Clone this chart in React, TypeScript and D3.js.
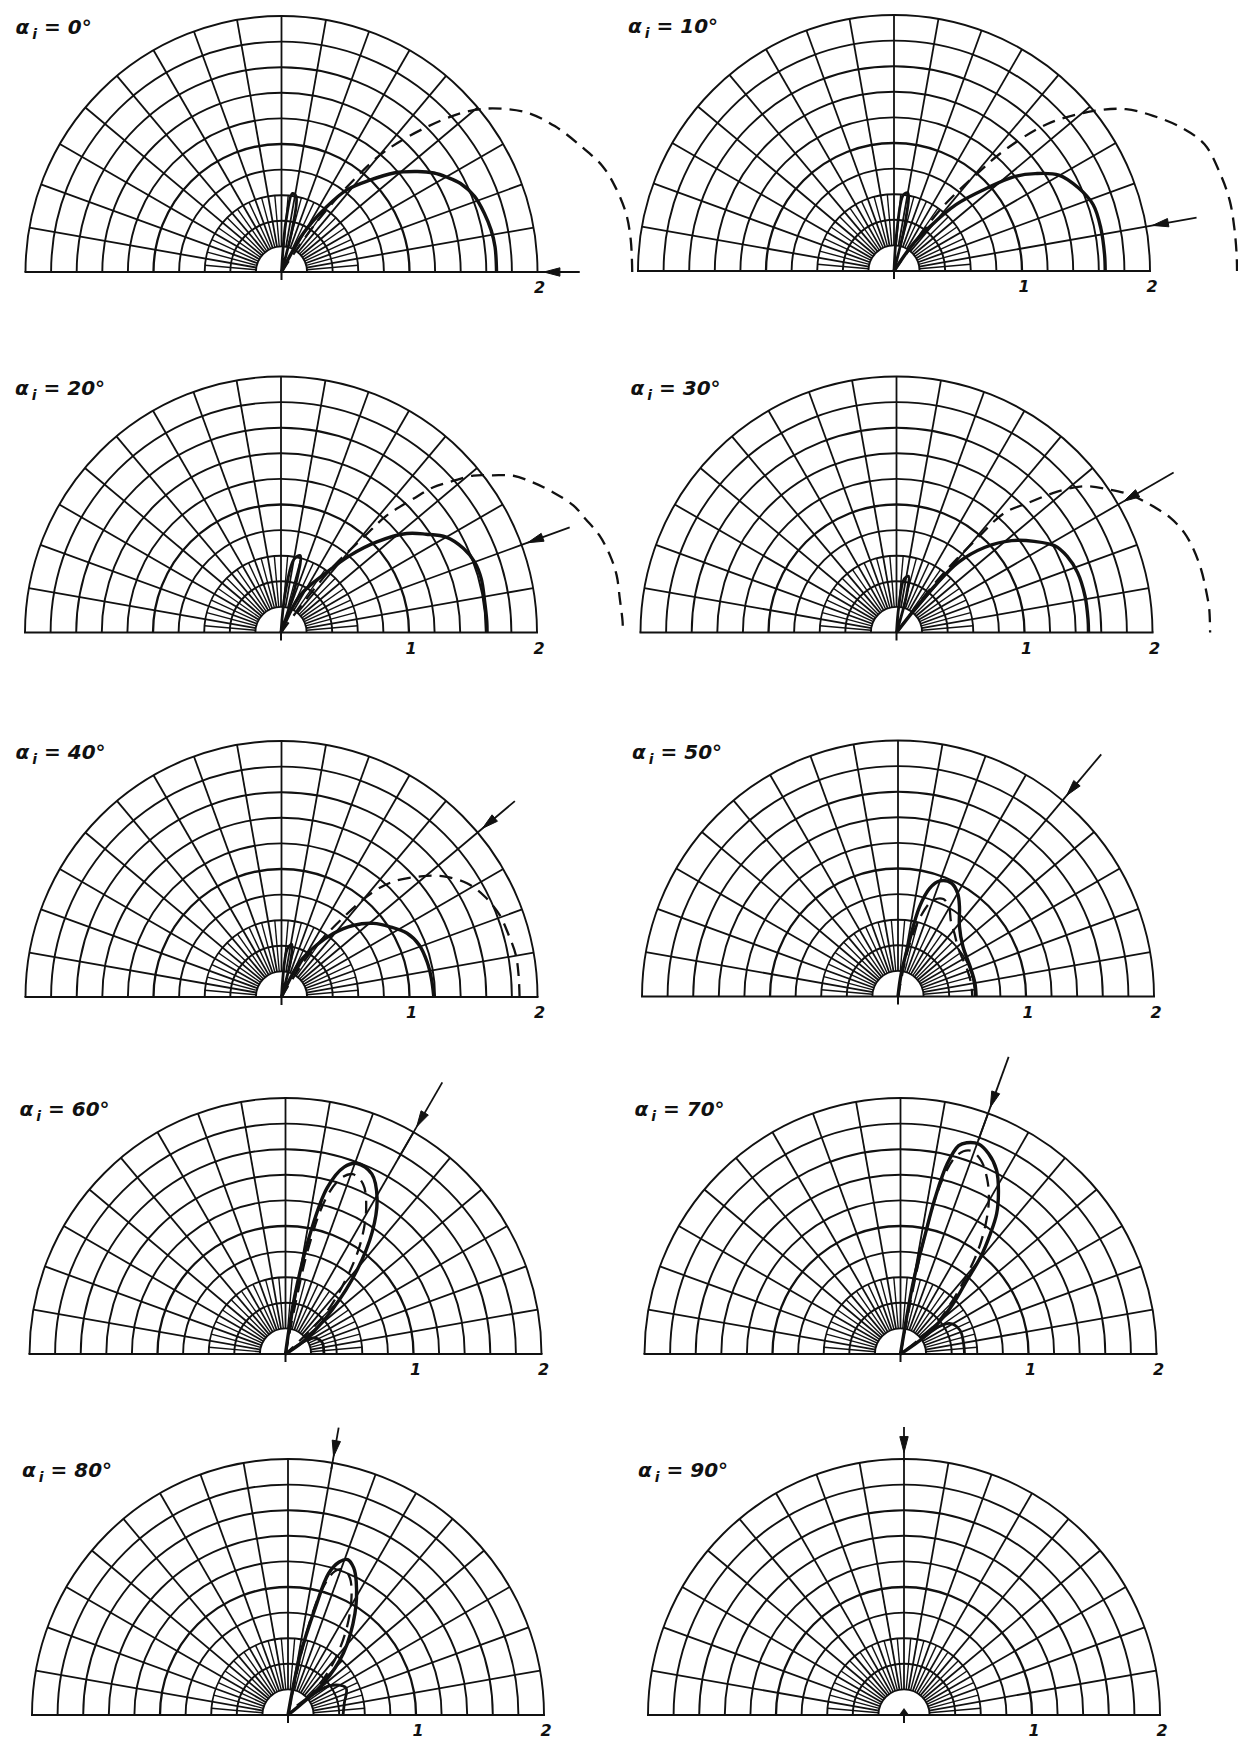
import React from "react";
import * as d3 from "d3";

// Each point is [direction in degrees from the +x axis, relative intensity].
type Pt = [number, number];

const incidenceAngles = [0, 10, 20, 30, 40, 50, 60, 70, 80, 90];

// Polar grid: rings every 0.2, spokes every 10°, extra 5° spokes near the hub.
const ringValues = [0.2, 0.4, 0.6, 0.8, 1.0, 1.2, 1.4, 1.6, 1.8, 2.0];
const spokeAngles = [10, 20, 30, 40, 50, 60, 70, 80, 90, 100, 110, 120, 130, 140, 150, 160, 170];
const fineSpokeAngles = [5, 15, 25, 35, 45, 55, 65, 75, 85, 95, 105, 115, 125, 135, 145, 155, 165, 175];
const panelTickValues = [[2], [1, 2], [1, 2], [1, 2], [1, 2], [1, 2], [1, 2], [1, 2], [1, 2], [1, 2]];

// Measured indicatrix (solid) for each angle of incidence.
const solid0: Pt[] = [[63, 0], [60.5, 0.35], [55.3, 0.62], [51.5, 0.82], [46, 1.0], [41.4, 1.17], [36.5, 1.32], [33, 1.42], [29.8, 1.49], [26.3, 1.56], [21.4, 1.62], [16.1, 1.65], [11.3, 1.67], [6.7, 1.68], [0, 1.68]];
const solid10: Pt[] = [[62, 0], [55, 0.25], [51.3, 0.43], [47, 0.71], [41.6, 0.98], [38, 1.2], [34.6, 1.34], [30.2, 1.49], [24.3, 1.58], [18.4, 1.64], [11.8, 1.65], [4.5, 1.65], [0, 1.65]];
const solid20: Pt[] = [[66, 0], [62.6, 0.33], [52.8, 0.59], [48.1, 0.81], [43.4, 1.03], [38.2, 1.25], [34.1, 1.37], [30, 1.49], [24.7, 1.57], [20, 1.61], [15, 1.62], [9.4, 1.61], [3, 1.61], [0, 1.61]];
const solid30: Pt[] = [[56, 0], [51.8, 0.23], [50.6, 0.47], [48.6, 0.73], [43.9, 0.96], [38.6, 1.15], [33.5, 1.29], [28.7, 1.41], [24, 1.46], [18.3, 1.49], [11, 1.5], [4, 1.5], [0, 1.5]];
const solid40: Pt[] = [[66, 0], [62.4, 0.31], [55.9, 0.49], [50.8, 0.64], [45, 0.79], [38.7, 0.92], [32.9, 1.01], [26.9, 1.1], [20.7, 1.15], [13.6, 1.17], [7, 1.18], [0, 1.19]];
const solid50: Pt[] = [[85, 0], [81.9, 0.18], [78.4, 0.45], [76.5, 0.72], [73.7, 0.88], [70.1, 0.96], [64.8, 0.98], [59.9, 0.93], [55.6, 0.85], [48.9, 0.73], [37.6, 0.64], [22.7, 0.61], [9.9, 0.61], [0, 0.61]];
const solid60: Pt[] = [[84, 0], [81, 0.45], [78.3, 0.98], [75.9, 1.34], [72.6, 1.53], [69.4, 1.59], [64.4, 1.56], [59.5, 1.41], [54.6, 1.17], [49.5, 0.86], [43.6, 0.51], [36, 0.2], [34, 0]];
const solid70: Pt[] = [[84, 0], [79.9, 0.58], [78.3, 0.96], [77.5, 1.25], [76.2, 1.53], [74.4, 1.69], [72.6, 1.73], [69.6, 1.75], [66.3, 1.71], [62.4, 1.62], [59.1, 1.49], [55.6, 1.33], [53.2, 1.17], [50.4, 0.98], [47.9, 0.77], [44.4, 0.6], [40.7, 0.44], [36, 0.25], [38, 0]];
const solid80: Pt[] = [[84, 0], [78.6, 0.46], [75.7, 0.87], [74, 1.15], [71.5, 1.26], [69, 1.3], [66, 1.26], [62.9, 1.17], [56.6, 0.95], [48.2, 0.65], [41.8, 0.37], [38, 0]];
const solid90: Pt[] = [];

// Calculated indicatrix (dashed) for each angle of incidence.
const dashed0: Pt[] = [[58, 0], [55, 0.45], [52, 0.9], [49.2, 1.26], [43.5, 1.72], [40, 1.97], [36.6, 2.14], [32.9, 2.29], [28.1, 2.42], [22.7, 2.54], [18.3, 2.64], [14.4, 2.69], [9.7, 2.73], [5.2, 2.74], [0, 2.74]];
const dashed10: Pt[] = [[58, 0], [53, 0.6], [49.5, 1.0], [47.6, 1.27], [43.8, 1.66], [38.7, 2.0], [34.9, 2.21], [30.9, 2.36], [26.5, 2.51], [22.2, 2.62], [16.5, 2.66], [11.8, 2.68], [7.3, 2.68], [2.8, 2.68], [0, 2.68]];
const dashed20: Pt[] = [[58, 0], [52, 0.6], [49, 1.0], [47.9, 1.23], [45.3, 1.47], [43.7, 1.64], [41.4, 1.79], [39.2, 1.94], [36.6, 2.06], [34, 2.19], [30.8, 2.29], [27.3, 2.39], [23.5, 2.49], [20.4, 2.54], [17, 2.6], [13.2, 2.64], [9.7, 2.66], [5.7, 2.66], [1.8, 2.67], [0, 2.67]];
const dashed30: Pt[] = [[56, 0], [52, 0.5], [49.5, 0.95], [47.9, 1.26], [44.6, 1.44], [41.2, 1.67], [37.9, 1.86], [33.7, 2.01], [30.5, 2.12], [26.7, 2.22], [22.7, 2.32], [19.1, 2.38], [15.6, 2.41], [11.7, 2.43], [8, 2.44], [4.3, 2.45], [0, 2.45]];
const dashed40: Pt[] = [[60, 0], [57, 0.4], [52, 0.8], [48.9, 1.09], [45.8, 1.26], [40.9, 1.44], [36.6, 1.58], [31.5, 1.7], [26.4, 1.77], [20.7, 1.82], [15.2, 1.84], [10.1, 1.86], [5.2, 1.86], [0, 1.86]];
const dashed50: Pt[] = [[83, 0], [78, 0.38], [74, 0.66], [70, 0.8], [65, 0.84], [60, 0.8], [55, 0.72], [48, 0.66], [38, 0.6], [22, 0.58], [10, 0.58], [0, 0.58]];
const dashed60: Pt[] = [[80, 0], [78, 0.8], [75.5, 1.25], [72.5, 1.44], [69.5, 1.5], [65.5, 1.46], [61, 1.3], [56, 1.05], [51, 0.75], [45, 0.42], [38, 0]];
const dashed70: Pt[] = [[82, 0], [78.5, 0.9], [76.5, 1.4], [74, 1.62], [71, 1.68], [67.5, 1.64], [63.5, 1.52], [60, 1.38], [56.5, 1.2], [53, 1.0], [49.5, 0.78], [45, 0.55], [40, 0.35], [38, 0]];
const dashed80: Pt[] = [[82, 0], [77.5, 0.6], [75, 1.0], [72, 1.18], [69, 1.22], [65.5, 1.17], [61, 1.02], [55, 0.78], [48, 0.5], [42, 0.25], [40, 0]];
const dashed90: Pt[] = [];

// Small side lobes close to the hub.
const minor0: Pt[] = [[72, 0], [76, 0.35], [79, 0.6], [82, 0.62], [85, 0.4], [88, 0]];
const minor10: Pt[] = [[74, 0], [77, 0.4], [80, 0.62], [83, 0.6], [86, 0.3], [88, 0]];
const minor20: Pt[] = [[70, 0], [73, 0.4], [76, 0.62], [80, 0.58], [84, 0.3], [87, 0]];
const minor30: Pt[] = [[72, 0], [75, 0.3], [78, 0.45], [82, 0.42], [85, 0.2], [87, 0]];
const minor40: Pt[] = [[73, 0], [76, 0.3], [79, 0.42], [83, 0.38], [86, 0]];
const minor50: Pt[] = [];
const minor60: Pt[] = [[40, 0], [30, 0.25], [18, 0.3], [5, 0.3], [0, 0.3]];
const minor70: Pt[] = [[40, 0.2], [32, 0.45], [22, 0.5], [10, 0.5], [0, 0.5]];
const minor80: Pt[] = [[45, 0.1], [35, 0.4], [25, 0.5], [12, 0.45], [0, 0.43]];
const minor90: Pt[] = [];

const solidSeries = [solid0, solid10, solid20, solid30, solid40, solid50, solid60, solid70, solid80, solid90];
const dashedSeries = [dashed0, dashed10, dashed20, dashed30, dashed40, dashed50, dashed60, dashed70, dashed80, dashed90];
const minorSeries = [minor0, minor10, minor20, minor30, minor40, minor50, minor60, minor70, minor80, minor90];

// Incident-beam arrows: outer and inner end of the shaft, in intensity units.
const arrowOuter = [2.33, 2.4, 2.4, 2.5, 2.38, 2.47, 2.45, 2.47, 2.28, 2.25];
const arrowInner = [2.0, 2.0, 2.0, 2.0, 2.0, 2.0, 1.76, 1.78, 1.95, 1.98];

// Page layout: hub of each half-disc (pixels).
const panelOrigins: [number, number][] = [
  [281.5, 272], [894, 271],
  [281, 632.5], [896.5, 632.5],
  [281.5, 997], [898, 996.5],
  [285.5, 1354], [900.5, 1354],
  [288, 1715], [904, 1715],
];

const W = 1238;
const H = 1742;
const R = 256;
const INK = "#111";

const r = d3.scaleLinear().domain([0, 2]).range([0, R]);
const rad = (deg: number) => (deg * Math.PI) / 180;
const polar = (deg: number, v: number): [number, number] => [r(v) * Math.cos(rad(deg)), -r(v) * Math.sin(rad(deg))];

const radialLine = d3
  .lineRadial<Pt>()
  .angle((d) => rad(90 - d[0]))
  .radius((d) => r(d[1]))
  .curve(d3.curveCatmullRom.alpha(0.5));

const semicircle = (rr: number) => `M ${-rr},0 A ${rr},${rr} 0 0 1 ${rr},0`;

function Arrow({ deg, outer, inner }: { deg: number; outer: number; inner: number }) {
  const [x1, y1] = polar(deg, outer);
  const [x2, y2] = polar(deg, inner);
  const ux = Math.cos(rad(deg));
  const uy = -Math.sin(rad(deg));
  const tipR = r(2.05);
  const tx = ux * tipR;
  const ty = uy * tipR;
  const len = 16;
  const hw = 4.2;
  const bx = tx + ux * len;
  const by = ty + uy * len;
  const px = -uy;
  const py = ux;
  const head = `M ${tx},${ty} L ${bx + px * hw},${by + py * hw} L ${bx - px * hw},${by - py * hw} Z`;
  return (
    <g>
      <line x1={x1} y1={y1} x2={x2} y2={y2} stroke={INK} strokeWidth={1.8} />
      <path d={head} fill={INK} stroke={INK} strokeWidth={1} />
    </g>
  );
}

function Panel({ index }: { index: number }) {
  const [cx, cy] = panelOrigins[index];
  const alpha = incidenceAngles[index];
  const solid = solidSeries[index];
  const dashed = dashedSeries[index];
  const minor = minorSeries[index];
  return (
    <g transform={`translate(${cx},${cy})`}>
      {/* rings */}
      {ringValues.map((v) => (
        <path key={`ring${v}`} d={semicircle(r(v))} fill="none" stroke={INK} strokeWidth={v === 1 ? 2.3 : 1.9} />
      ))}
      {/* spokes */}
      {spokeAngles.map((a) => {
        const [x1, y1] = polar(a, 0.2);
        const [x2, y2] = polar(a, 2);
        return <line key={`sp${a}`} x1={x1} y1={y1} x2={x2} y2={y2} stroke={INK} strokeWidth={1.8} />;
      })}
      {fineSpokeAngles.map((a) => {
        const [x1, y1] = polar(a, 0.2);
        const [x2, y2] = polar(a, 0.6);
        return <line key={`fs${a}`} x1={x1} y1={y1} x2={x2} y2={y2} stroke={INK} strokeWidth={1.4} />;
      })}
      {/* base line */}
      <line x1={-R - 1} y1={0} x2={R + 1} y2={0} stroke={INK} strokeWidth={2.1} />
      <line x1={0} y1={0} x2={0} y2={8} stroke={INK} strokeWidth={2} />

      {/* indicatrices */}
      {dashed.length > 0 && (
        <path d={radialLine(dashed) ?? ""} fill="none" stroke={INK} strokeWidth={2.3} strokeDasharray="13 8" />
      )}
      {minor.length > 0 && <path d={radialLine(minor) ?? ""} fill="none" stroke={INK} strokeWidth={2.8} />}
      {solid.length > 0 && <path d={radialLine(solid) ?? ""} fill="none" stroke={INK} strokeWidth={3.4} strokeLinejoin="round" />}
      {solid.length === 0 && <path d="M -5,0 L 0,-7 L 5,0 Z" fill={INK} />}

      <Arrow deg={alpha} outer={arrowOuter[index]} inner={arrowInner[index]} />

      {/* radial scale labels */}
      {panelTickValues[index].map((v) => (
        <text
          key={`t${v}`}
          x={r(v) + 2}
          y={21}
          textAnchor="middle"
          fontFamily="DejaVu Sans"
          fontStyle="italic"
          fontWeight="bold"
          fontSize={16}
          fill={INK}
        >
          {String(v)}
        </text>
      ))}

      {/* angle of incidence */}
      <text x={-266} y={-238} fontFamily="DejaVu Sans" fontStyle="italic" fontWeight="bold" fontSize={20} fill={INK}>
        <tspan>α</tspan>
        <tspan dx={3} dy={5} fontSize={14}>i</tspan>
        <tspan dy={-5}>{` = ${alpha}°`}</tspan>
      </text>
    </g>
  );
}

export default function App() {
  return (
    <svg
      width={W}
      height={H}
      viewBox={`0 0 ${W} ${H}`}
      style={{ position: "absolute", left: 0, top: 0, display: "block", background: "#fff" }}
    >
      <rect x={0} y={0} width={W} height={H} fill="#fff" />
      {incidenceAngles.map((a, i) => (
        <Panel key={a} index={i} />
      ))}
    </svg>
  );
}
